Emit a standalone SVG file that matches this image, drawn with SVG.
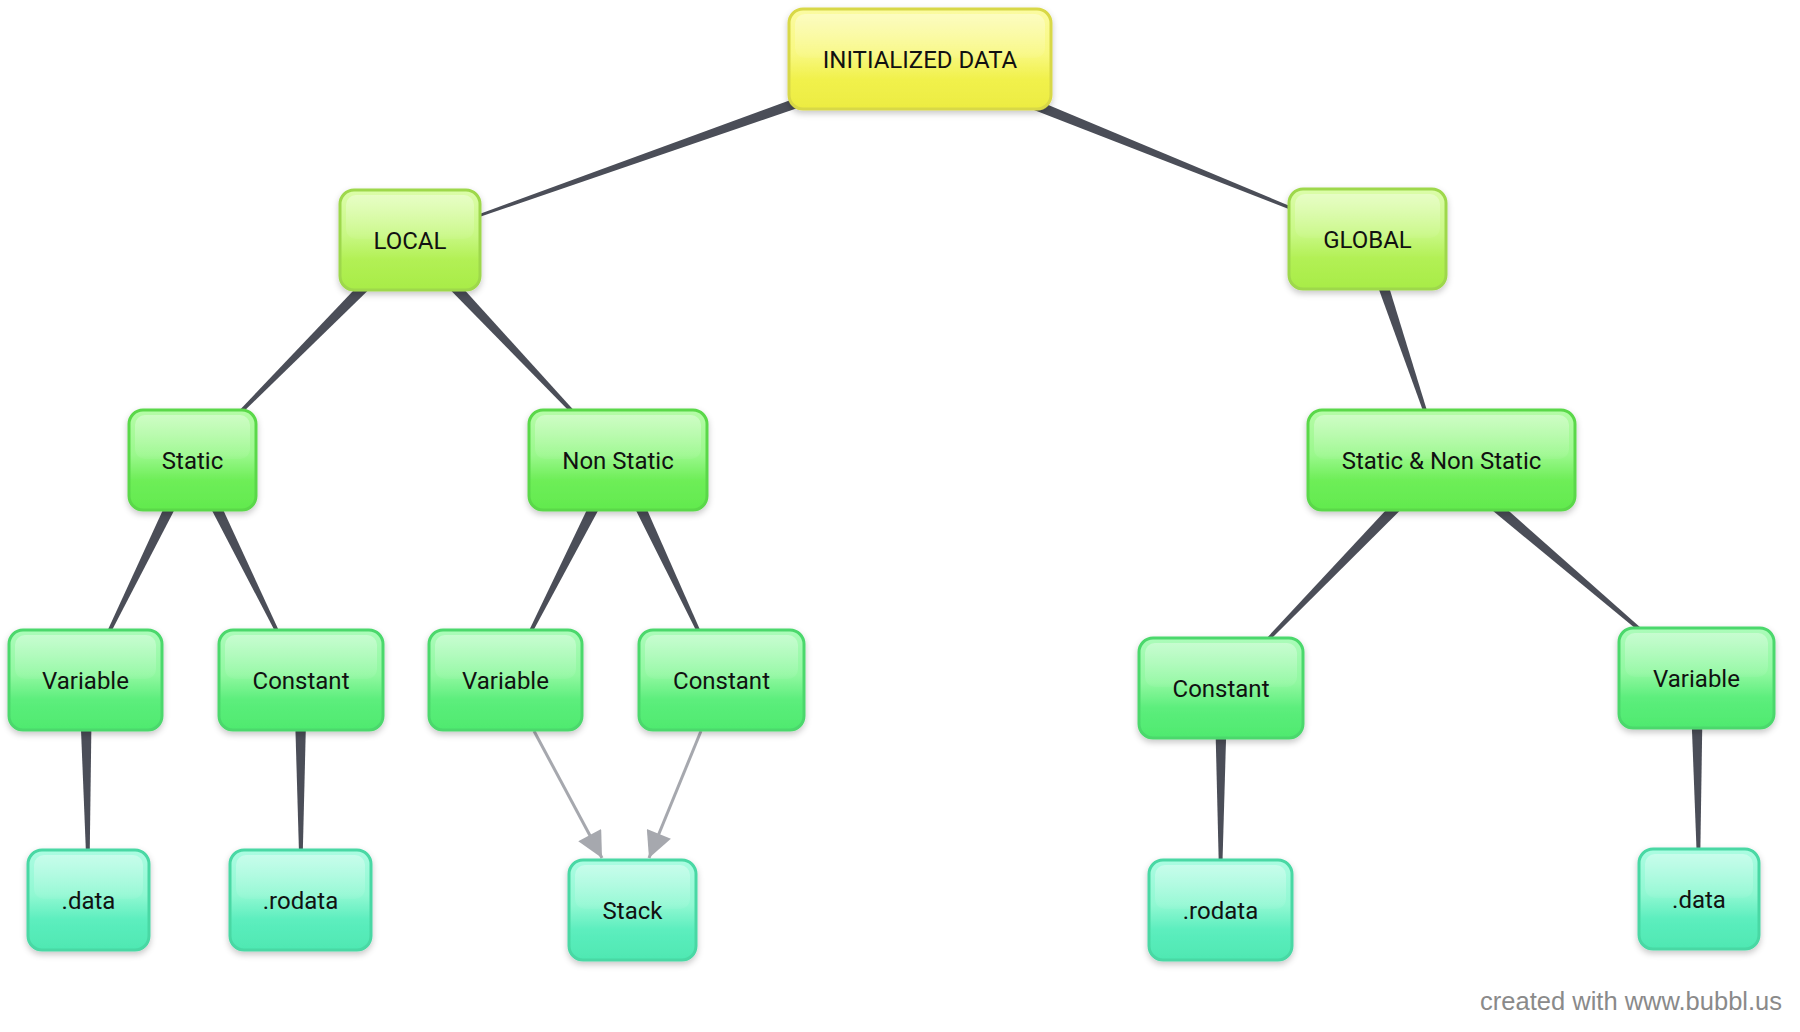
<svg xmlns="http://www.w3.org/2000/svg" width="1800" height="1032" viewBox="0 0 1800 1032">
  <defs>
    <linearGradient id="gY" x1="0" y1="0" x2="0" y2="1">
      <stop offset="0" stop-color="#fbfba2"/>
      <stop offset="0.45" stop-color="#f8f880"/>
      <stop offset="0.7" stop-color="#f1f14c"/>
      <stop offset="1" stop-color="#ecec42"/>
    </linearGradient>
    <linearGradient id="gL" x1="0" y1="0" x2="0" y2="1">
      <stop offset="0" stop-color="#dcfdaa"/>
      <stop offset="0.45" stop-color="#c8f884"/>
      <stop offset="0.7" stop-color="#b2f054"/>
      <stop offset="1" stop-color="#a8ec48"/>
    </linearGradient>
    <linearGradient id="gG" x1="0" y1="0" x2="0" y2="1">
      <stop offset="0" stop-color="#b6fca8"/>
      <stop offset="0.45" stop-color="#9af88c"/>
      <stop offset="0.7" stop-color="#6eee58"/>
      <stop offset="1" stop-color="#62ea4e"/>
    </linearGradient>
    <linearGradient id="gM" x1="0" y1="0" x2="0" y2="1">
      <stop offset="0" stop-color="#acfcba"/>
      <stop offset="0.45" stop-color="#90f8a0"/>
      <stop offset="0.7" stop-color="#5cee7c"/>
      <stop offset="1" stop-color="#4fea6f"/>
    </linearGradient>
    <linearGradient id="gT" x1="0" y1="0" x2="0" y2="1">
      <stop offset="0" stop-color="#acfce2"/>
      <stop offset="0.45" stop-color="#90f8d2"/>
      <stop offset="0.7" stop-color="#5ceebe"/>
      <stop offset="1" stop-color="#4fe8b2"/>
    </linearGradient>
    <linearGradient id="gloss" x1="0" y1="0" x2="0" y2="1">
      <stop offset="0" stop-color="#ffffff" stop-opacity="0.35"/>
      <stop offset="1" stop-color="#ffffff" stop-opacity="0.05"/>
    </linearGradient>
    <filter id="shadow" x="-10%" y="-10%" width="120%" height="130%">
      <feDropShadow dx="0" dy="3" stdDeviation="3" flood-color="#000000" flood-opacity="0.22"/>
    </filter>
    <marker id="arrow" markerUnits="userSpaceOnUse" markerWidth="28" markerHeight="26" viewBox="0 0 10 10" refX="10" refY="5" orient="auto">
      <path d="M0,0 L10,5 L0,10 z" fill="#a6a8ae"/>
    </marker>
  </defs>
  <style>
    .box { stroke-width: 3; filter: url(#shadow); }
    .yellow .box { fill: url(#gY); stroke: #d8d846; }
    .lime .box { fill: url(#gL); stroke: #9ed84c; }
    .green .box { fill: url(#gG); stroke: #5ad84a; }
    .mint .box { fill: url(#gM); stroke: #4cd86c; }
    .teal .box { fill: url(#gT); stroke: #48d8a4; }
    .gloss { fill: url(#gloss); }
    .label { font-family: Roboto, "Liberation Sans", sans-serif; font-size: 24px; fill: #111111; text-anchor: middle; }
    .wedge { fill: #4b4e58; }
    .arrow { stroke: #a6a8ae; stroke-width: 3; fill: none; marker-end: url(#arrow); }
    .credit { font-family: "Liberation Sans", Arial, sans-serif; font-size: 25.5px; fill: #8a8a8a; text-anchor: end; }
  </style>
  <rect width="1800" height="1032" fill="#ffffff"/>

  <g id="connectors">
    <polygon class="wedge" points="918.82,52.88 410.3,239.43 410.7,240.57 923.18,65.12"/>
    <polygon class="wedge" points="918.57,65.03 1367.28,239.56 1367.72,238.44 923.43,52.97"/>
    <polygon class="wedge" points="405.89,235.42 192.57,459.58 193.43,460.42 415.11,244.58"/>
    <polygon class="wedge" points="405.78,244.47 617.56,460.41 618.44,459.59 415.22,235.53"/>
    <polygon class="wedge" points="1361.34,241.06 1440.93,460.19 1442.07,459.81 1373.66,236.94"/>
    <polygon class="wedge" points="187.16,457.15 84.96,679.74 86.04,680.26 198.84,462.85"/>
    <polygon class="wedge" points="187.18,462.89 300.46,680.27 301.54,679.73 198.82,457.11"/>
    <polygon class="wedge" points="612.2,457.06 505.46,679.73 506.54,680.27 623.8,462.94"/>
    <polygon class="wedge" points="612.12,462.77 720.96,680.26 722.04,679.74 623.88,457.23"/>
    <polygon class="wedge" points="1436.83,455.48 1220.57,687.58 1221.43,688.42 1446.17,464.52"/>
    <polygon class="wedge" points="1437.28,464.94 1696.11,678.46 1696.89,677.54 1445.72,455.06"/>
    <polygon class="wedge" points="79,680.09 87.9,901.01 89.1,900.99 92,679.91"/>
    <polygon class="wedge" points="294,679.97 300.4,900.99 301.6,901.01 307,680.03"/>
    <polygon class="wedge" points="1214.5,688 1219.9,910 1221.1,910 1227.5,688"/>
    <polygon class="wedge" points="1690,678.07 1698.4,899.01 1699.6,898.99 1703,677.93"/>
    <line class="arrow" x1="534" y1="731" x2="602" y2="858"/>
    <line class="arrow" x1="701" y1="731" x2="649" y2="858"/>
  </g>

  <g id="n-initialized-data" class="yellow">
    <rect class="box" x="789" y="9" width="262" height="100" rx="14"/>
    <rect class="gloss" x="795" y="14" width="250" height="44" rx="10"/>
    <text class="label" x="920" y="67.5">INITIALIZED DATA</text>
  </g>
  <g id="n-local" class="lime">
    <rect class="box" x="340" y="190" width="140" height="100" rx="14"/>
    <rect class="gloss" x="346" y="195" width="128" height="44" rx="10"/>
    <text class="label" x="410" y="248.5">LOCAL</text>
  </g>
  <g id="n-global" class="lime">
    <rect class="box" x="1289" y="189" width="157" height="100" rx="14"/>
    <rect class="gloss" x="1295" y="194" width="145" height="44" rx="10"/>
    <text class="label" x="1367.5" y="247.5">GLOBAL</text>
  </g>
  <g id="n-static" class="green">
    <rect class="box" x="129" y="410" width="127" height="100" rx="14"/>
    <rect class="gloss" x="135" y="415" width="115" height="44" rx="10"/>
    <text class="label" x="192.5" y="468.5">Static</text>
  </g>
  <g id="n-non-static" class="green">
    <rect class="box" x="529" y="410" width="178" height="100" rx="14"/>
    <rect class="gloss" x="535" y="415" width="166" height="44" rx="10"/>
    <text class="label" x="618" y="468.5">Non Static</text>
  </g>
  <g id="n-static-non-static" class="green">
    <rect class="box" x="1308" y="410" width="267" height="100" rx="14"/>
    <rect class="gloss" x="1314" y="415" width="255" height="44" rx="10"/>
    <text class="label" x="1441.5" y="468.5">Static &amp; Non Static</text>
  </g>
  <g id="n-variable-1" class="mint">
    <rect class="box" x="9" y="630" width="153" height="100" rx="14"/>
    <rect class="gloss" x="15" y="635" width="141" height="44" rx="10"/>
    <text class="label" x="85.5" y="688.5">Variable</text>
  </g>
  <g id="n-constant-1" class="mint">
    <rect class="box" x="219" y="630" width="164" height="100" rx="14"/>
    <rect class="gloss" x="225" y="635" width="152" height="44" rx="10"/>
    <text class="label" x="301" y="688.5">Constant</text>
  </g>
  <g id="n-variable-2" class="mint">
    <rect class="box" x="429" y="630" width="153" height="100" rx="14"/>
    <rect class="gloss" x="435" y="635" width="141" height="44" rx="10"/>
    <text class="label" x="505.5" y="688.5">Variable</text>
  </g>
  <g id="n-constant-2" class="mint">
    <rect class="box" x="639" y="630" width="165" height="100" rx="14"/>
    <rect class="gloss" x="645" y="635" width="153" height="44" rx="10"/>
    <text class="label" x="721.5" y="688.5">Constant</text>
  </g>
  <g id="n-constant-3" class="mint">
    <rect class="box" x="1139" y="638" width="164" height="100" rx="14"/>
    <rect class="gloss" x="1145" y="643" width="152" height="44" rx="10"/>
    <text class="label" x="1221" y="696.5">Constant</text>
  </g>
  <g id="n-variable-3" class="mint">
    <rect class="box" x="1619" y="628" width="155" height="100" rx="14"/>
    <rect class="gloss" x="1625" y="633" width="143" height="44" rx="10"/>
    <text class="label" x="1696.5" y="686.5">Variable</text>
  </g>
  <g id="n-data-1" class="teal">
    <rect class="box" x="28" y="850" width="121" height="100" rx="14"/>
    <rect class="gloss" x="34" y="855" width="109" height="44" rx="10"/>
    <text class="label" x="88.5" y="908.5">.data</text>
  </g>
  <g id="n-rodata-1" class="teal">
    <rect class="box" x="230" y="850" width="141" height="100" rx="14"/>
    <rect class="gloss" x="236" y="855" width="129" height="44" rx="10"/>
    <text class="label" x="300.5" y="908.5">.rodata</text>
  </g>
  <g id="n-stack" class="teal">
    <rect class="box" x="569" y="860" width="127" height="100" rx="14"/>
    <rect class="gloss" x="575" y="865" width="115" height="44" rx="10"/>
    <text class="label" x="632.5" y="918.5">Stack</text>
  </g>
  <g id="n-rodata-2" class="teal">
    <rect class="box" x="1149" y="860" width="143" height="100" rx="14"/>
    <rect class="gloss" x="1155" y="865" width="131" height="44" rx="10"/>
    <text class="label" x="1220.5" y="918.5">.rodata</text>
  </g>
  <g id="n-data-2" class="teal">
    <rect class="box" x="1639" y="849" width="120" height="100" rx="14"/>
    <rect class="gloss" x="1645" y="854" width="108" height="44" rx="10"/>
    <text class="label" x="1699" y="907.5">.data</text>
  </g>

  <text class="credit" x="1782" y="1010">created with www.bubbl.us</text>
</svg>
